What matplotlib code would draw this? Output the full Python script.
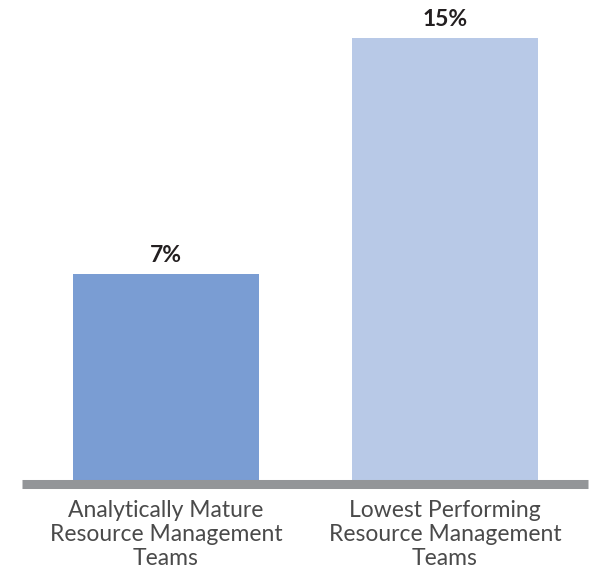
import matplotlib
matplotlib.use("Agg")
from matplotlib import pyplot as plt

categories = ["Analytically Mature\nResource Management\nTeams",
              "Lowest Performing\nResource Management\nTeams"]
values = [7, 15]
labels = ["7%", "15%"]
colors = ["#7a9dd3", "#b8c9e7"]

fig = plt.figure(figsize=(5.93, 5.67), dpi=100)
ax = fig.add_axes([22 / 593, 1 - 480 / 567, 566 / 593, 471 / 567])

positions = range(len(values))
bars = ax.bar(positions, values, width=0.667, color=colors)
ax.set_xlim(-0.516, 1.513)
ax.set_ylim(0, 16)

for bar, text in zip(bars, labels):
    ax.annotate(text, (bar.get_x() + bar.get_width() / 2, bar.get_height()),
                xytext=(0, 6), textcoords="offset points", ha="center", va="bottom",
                fontsize=16.5, fontweight="bold", color="#231f20", family="Lato")

# thick gray baseline under the bars
for side in ["top", "left", "right"]:
    ax.spines[side].set_visible(False)
ax.spines["bottom"].set_linewidth(6.5)
ax.spines["bottom"].set_color("#939598")
ax.spines["bottom"].set_position(("outward", 3.2))
ax.spines["bottom"].set_capstyle("butt")

ax.set_yticks([])
ax.set_xticks(list(positions))
ax.set_xticklabels(categories, fontsize=16.5, color="#4a4a4a", family="Lato",
                   fontweight="normal", linespacing=1.17)
ax.tick_params(axis="x", length=0, pad=11)

fig.savefig("out.png", dpi=100)
